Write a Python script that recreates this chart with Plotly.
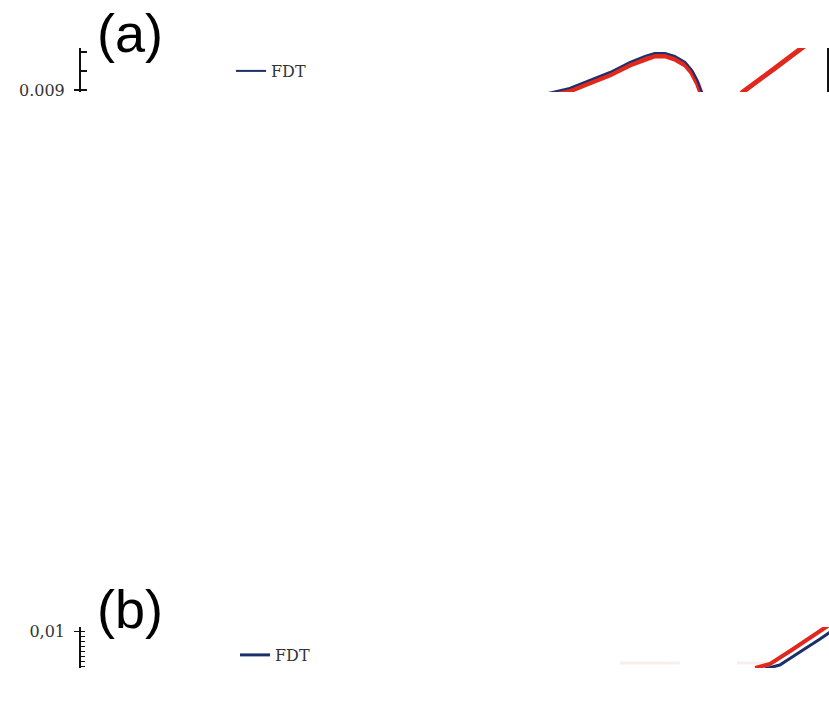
import plotly.graph_objects as go

W, H = 829, 715

# ---------------- data: panel (a) ----------------
fdt_a_x = [62.6, 65.5, 68.2, 70.9, 73.6, 75.6, 76.9, 78.3, 79.6, 81.0, 81.9, 82.6, 83.0, 83.4]
fdt_a_blue = [0.008968, 0.009021, 0.009105, 0.009189, 0.009295, 0.009358, 0.009389,
              0.009389, 0.009358, 0.009295, 0.009211, 0.009105, 0.009021, 0.008937]
fdt_a_red_x = [62.6, 65.5, 68.2, 70.9, 73.6, 75.6, 76.9, 78.3, 79.6, 81.0, 81.9, 82.6, 83.0, 83.4,
               86.0, 88.7, 92.7, 96.8, 98.4]
fdt_a_red = [0.008937, 0.008989, 0.009074, 0.009158, 0.009263, 0.009326, 0.009358,
             0.009358, 0.009326, 0.009263, 0.009179, 0.009074, 0.008989, 0.008905,
             0.008700, 0.008979, 0.009211, 0.009453, 0.009547]
tick_a_vals = [0.009]
tick_a_text = ["0.009"]

# ---------------- data: panel (b) ----------------
faint_b_x = [72.0, 80.0, None, 87.7, 92.0]
faint_b_y = [0.0068, 0.0068, None, 0.0068, 0.0068]
fdt_b_red_x = [90.1, 92.1, 94.8, 97.5, 100.8]
fdt_b_red = [0.0063, 0.0067, 0.0080, 0.0093, 0.0110]
fdt_b_blue_x = [91.4, 93.4, 96.1, 98.8, 102.1]
fdt_b_blue = [0.0062, 0.0066, 0.0079, 0.0092, 0.0109]
tick_b_vals = [0.01]
tick_b_text = ["0,01"]

RED = "#e2281c"
BLUE = "#1b2f6b"
SERIF = "DejaVu Serif"

fig = go.Figure()

# panel (a)
fig.add_trace(go.Scatter(x=fdt_a_red_x, y=fdt_a_red, mode="lines", line=dict(color=RED, width=5),
                         showlegend=False, xaxis="x", yaxis="y"))
fig.add_trace(go.Scatter(x=fdt_a_x, y=fdt_a_blue, mode="lines", line=dict(color=BLUE, width=2),
                         name="FDT", legend="legend", xaxis="x", yaxis="y"))

# panel (b)
fig.add_trace(go.Scatter(x=faint_b_x, y=faint_b_y, mode="lines",
                         line=dict(color="rgba(235,225,215,0.5)", width=3),
                         showlegend=False, xaxis="x2", yaxis="y2"))
fig.add_trace(go.Scatter(x=fdt_b_red_x, y=fdt_b_red, mode="lines", line=dict(color=RED, width=4),
                         showlegend=False, xaxis="x2", yaxis="y2"))
fig.add_trace(go.Scatter(x=fdt_b_blue_x, y=fdt_b_blue, mode="lines", line=dict(color=BLUE, width=3),
                         name="FDT", legend="legend2", xaxis="x2", yaxis="y2"))

def py(p):  # pixel row -> paper y
    return 1 - p / H

def px(p):
    return p / W

fig.update_layout(
    width=W, height=H,
    margin=dict(l=0, r=0, t=0, b=0, autoexpand=False),
    paper_bgcolor="white", plot_bgcolor="white",
    xaxis=dict(domain=[px(81), px(827)], range=[0, 100], visible=False),
    yaxis=dict(domain=[py(92), py(48)], range=[0.008979, 0.009442], automargin=False,
               tickmode="array", tickvals=tick_a_vals, ticktext=tick_a_text,
               showline=True, linecolor="#111", linewidth=2, mirror=True,
               ticks="outside", ticklen=5, tickcolor="#111", tickwidth=1.5,
               ticklabelstandoff=6,
               showgrid=False, zeroline=False,
               tickfont=dict(family=SERIF, size=16, color="#333"),
               minor=dict(tickmode="linear", tick0=0.009, dtick=0.0002, ticks="inside",
                          ticklen=6, tickcolor="#111", tickwidth=1.5, showgrid=False)),
    xaxis2=dict(domain=[px(83), 1], range=[0, 100], visible=False),
    yaxis2=dict(domain=[py(668), py(627)], range=[0.0063, 0.0104], automargin=False,
                tickmode="array", tickvals=tick_b_vals, ticktext=tick_b_text,
                showline=True, linecolor="#111", linewidth=1.5,
                ticks="outside", ticklen=5, tickcolor="#111", tickwidth=1.2,
                ticklabelstandoff=6,
                showgrid=False, zeroline=False,
                tickfont=dict(family=SERIF, size=16, color="#333"),
                minor=dict(tickmode="linear", tick0=0.01, dtick=0.0005, ticks="inside",
                           ticklen=4, tickcolor="#111", tickwidth=1, showgrid=False)),
    legend=dict(x=px(231), y=py(71), xanchor="left", yanchor="middle",
                bgcolor="rgba(0,0,0,0)", font=dict(family=SERIF, size=16, color="#333"),
                itemwidth=30),
    legend2=dict(x=px(235), y=py(655), xanchor="left", yanchor="middle",
                 bgcolor="rgba(0,0,0,0)", font=dict(family=SERIF, size=16, color="#333"),
                 itemwidth=30),
    annotations=[
        dict(text="(a)", x=px(95), y=py(33), xref="paper", yref="paper",
             xanchor="left", yanchor="middle", showarrow=False,
             font=dict(family="Liberation Sans", size=54, color="black")),
        dict(text="(b)", x=px(95), y=py(609), xref="paper", yref="paper",
             xanchor="left", yanchor="middle", showarrow=False,
             font=dict(family="Liberation Sans", size=54, color="black")),
    ],
)

fig.write_html("out.html", config={"displayModeBar": False},
               post_script="document.body.style.margin='0';document.body.style.overflow='hidden';")
